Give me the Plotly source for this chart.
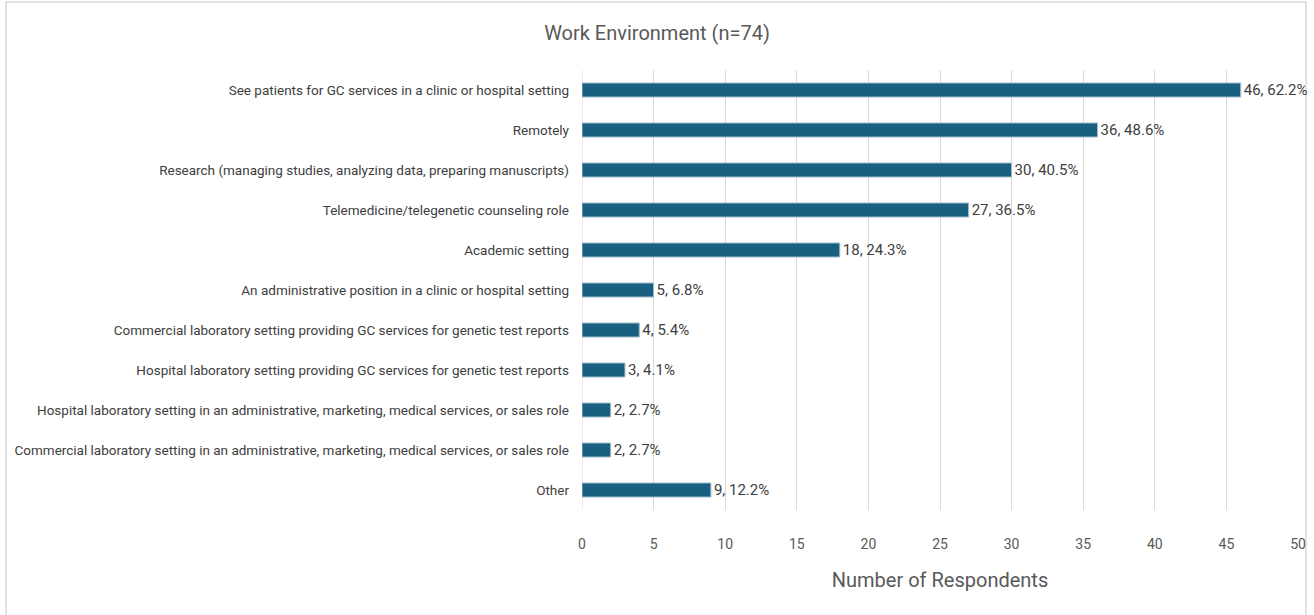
import plotly.graph_objects as go

# Survey responses: work environment of respondents (n=74)
categories = [
    "See patients for GC services in a clinic or hospital setting",
    "Remotely",
    "Research (managing studies, analyzing data, preparing manuscripts)",
    "Telemedicine/telegenetic counseling role",
    "Academic setting",
    "An administrative position in a clinic or hospital setting",
    "Commercial laboratory setting providing GC services for genetic test reports",
    "Hospital laboratory setting providing GC services for genetic test reports",
    "Hospital laboratory setting in an administrative, marketing, medical services, or sales role",
    "Commercial laboratory setting in an administrative, marketing, medical services, or sales role",
    "Other",
]
counts = [46, 36, 30, 27, 18, 5, 4, 3, 2, 2, 9]
percents = [62.2, 48.6, 40.5, 36.5, 24.3, 6.8, 5.4, 4.1, 2.7, 2.7, 12.2]
x_ticks = [0, 5, 10, 15, 20, 25, 30, 35, 40, 45, 50]

FONT = "Roboto, sans-serif"
labels = [f"{c}, {p}%" for c, p in zip(counts, percents)]

fig = go.Figure(
    go.Bar(
        x=counts,
        y=categories,
        orientation="h",
        width=0.35,
        marker=dict(color="#185f80", line=dict(color="#9fbccc", width=1)),
        text=labels,
        textposition="outside",
        constraintext="none",
        cliponaxis=False,
        textfont=dict(family=FONT, size=15, color="#404040"),
        hoverinfo="skip",
    )
)

W, H = 1314, 615
L, R, T, B = 582, 16, 70, 105

fig.update_layout(
    width=W,
    height=H,
    margin=dict(l=L, r=R, t=T, b=B, autoexpand=False),
    paper_bgcolor="white",
    plot_bgcolor="white",
    showlegend=False,
    title=dict(
        text="Work Environment (n=74)",
        x=0.5,
        xanchor="center",
        y=1 - 33 / H,
        yanchor="middle",
        font=dict(family=FONT, size=20, color="#595959"),
    ),
    xaxis=dict(
        range=[0, 50],
        tickvals=x_ticks,
        showgrid=True,
        gridcolor="#d9d9d9",
        gridwidth=1,
        zeroline=False,
        showline=False,
        ticks="",
        automargin=False,
        ticklabelstandoff=24,
        tickfont=dict(family=FONT, size=14, color="#595959"),
        title=dict(
            text="Number of Respondents",
            font=dict(family=FONT, size=20, color="#595959"),
            standoff=21,
        ),
        fixedrange=True,
    ),
    yaxis=dict(
        categoryorder="array",
        categoryarray=categories,
        autorange="reversed",
        showgrid=False,
        zeroline=False,
        showline=False,
        ticks="",
        automargin=False,
        ticklabelstandoff=12,
        tickfont=dict(family=FONT, size=13.5, color="#404040"),
        fixedrange=True,
    ),
    shapes=[
        dict(
            type="rect",
            xref="paper",
            yref="paper",
            x0=(6 - L) / (W - L - R),
            x1=(1306 - L) / (W - L - R),
            y0=-(H + 10 - (H - B)) / (H - T - B),
            y1=(H - T - B + T - 2) / (H - T - B),
            line=dict(color="#d9d9d9", width=1.5),
            fillcolor="rgba(0,0,0,0)",
            layer="below",
        ),
        dict(
            type="line",
            xref="x",
            yref="paper",
            x0=0,
            x1=0,
            y0=0,
            y1=1,
            line=dict(color="#d9d9d9", width=1),
            layer="below",
        ),
    ],
)

fig.write_html("out.html")
